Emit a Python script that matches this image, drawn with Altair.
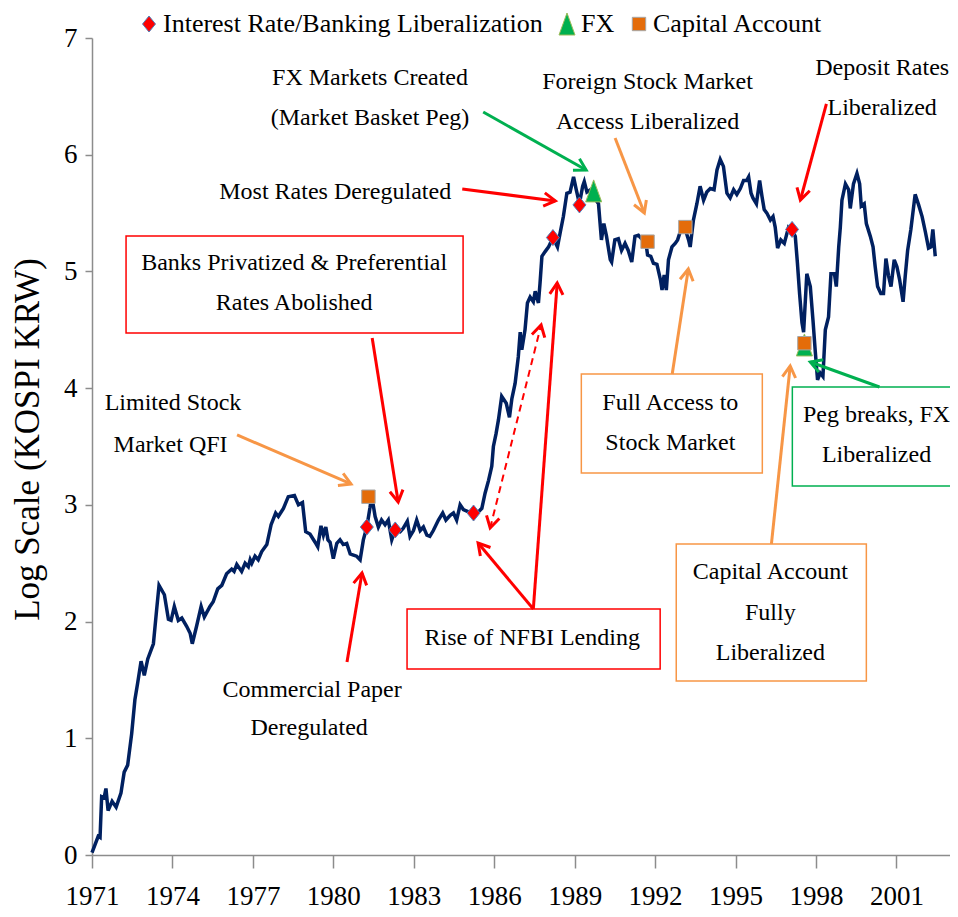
import math
import altair as alt
import pandas as pd

# ---------------- data ----------------
years = [1971.00, 1971.10, 1971.23, 1971.30, 1971.36, 1971.45, 1971.52, 1971.60, 1971.75, 1971.90,
         1972.08, 1972.20, 1972.33, 1972.48, 1972.60, 1972.70, 1972.83, 1972.95, 1973.08, 1973.29,
         1973.41, 1973.50, 1973.70, 1973.85, 1973.95, 1974.07, 1974.22, 1974.35, 1974.53, 1974.66,
         1974.74, 1974.90, 1975.07, 1975.19, 1975.40, 1975.52, 1975.69, 1975.84, 1976.02, 1976.21,
         1976.30, 1976.40, 1976.58, 1976.71, 1976.83, 1976.90, 1976.96, 1977.08, 1977.20, 1977.33,
         1977.52, 1977.68, 1977.85, 1977.95, 1978.14, 1978.32, 1978.55, 1978.70, 1978.85, 1978.97,
         1979.13, 1979.32, 1979.42, 1979.54, 1979.63, 1979.72, 1979.80, 1979.88, 1980.00, 1980.13,
         1980.25, 1980.37, 1980.50, 1980.63, 1980.75, 1980.87, 1981.00, 1981.12, 1981.25, 1981.37,
         1981.43, 1981.56, 1981.68, 1981.80, 1981.93, 1982.05, 1982.18, 1982.30, 1982.49, 1982.61,
         1982.76, 1982.86, 1982.99, 1983.11, 1983.24, 1983.36, 1983.49, 1983.60, 1983.73, 1983.92,
         1984.08, 1984.20, 1984.36, 1984.48, 1984.60, 1984.73, 1984.85, 1985.04, 1985.23, 1985.41,
         1985.54, 1985.66, 1985.79, 1985.91, 1985.97, 1986.07, 1986.16, 1986.28, 1986.45, 1986.57,
         1986.66, 1986.78, 1986.90, 1986.97, 1987.03, 1987.15, 1987.24, 1987.34, 1987.46, 1987.53,
         1987.65, 1987.71, 1987.78, 1987.90, 1988.03, 1988.19, 1988.36, 1988.46, 1988.58, 1988.71,
         1988.83, 1988.96, 1989.06, 1989.18, 1989.30, 1989.36, 1989.46, 1989.60, 1989.70, 1989.89,
         1990.00, 1990.09, 1990.19, 1990.33, 1990.38, 1990.50, 1990.63, 1990.75, 1990.88, 1991.00,
         1991.13, 1991.25, 1991.38, 1991.54, 1991.65, 1991.72, 1991.84, 1991.94, 1992.07, 1992.20,
         1992.26, 1992.34, 1992.42, 1992.50, 1992.63, 1992.75, 1992.84, 1992.94, 1993.10, 1993.25,
         1993.31, 1993.43, 1993.56, 1993.68, 1993.81, 1993.93, 1994.06, 1994.20, 1994.31, 1994.43,
         1994.55, 1994.68, 1994.80, 1994.93, 1995.05, 1995.18, 1995.30, 1995.42, 1995.49, 1995.58,
         1995.65, 1995.78, 1995.90, 1995.99, 1996.07, 1996.17, 1996.30, 1996.40, 1996.48, 1996.57,
         1996.69, 1996.82, 1996.98, 1997.10, 1997.23, 1997.31, 1997.39, 1997.48, 1997.54, 1997.60,
         1997.66, 1997.79, 1997.89, 1997.97, 1998.06, 1998.16, 1998.26, 1998.35, 1998.47, 1998.56,
         1998.69, 1998.76, 1998.85, 1998.91, 1998.97, 1999.10, 1999.22, 1999.28, 1999.40, 1999.53,
         1999.63, 1999.69, 1999.80, 1999.88, 2000.03, 2000.13, 2000.21, 2000.30, 2000.42, 2000.52,
         2000.61, 2000.71, 2000.80, 2000.92, 2001.02, 2001.12, 2001.25, 2001.33, 2001.42, 2001.54,
         2001.70, 2001.83, 2001.96, 2002.08, 2002.20, 2002.29, 2002.36, 2002.45]
kospi = [0.02, 0.08, 0.16, 0.15, 0.50, 0.49, 0.57, 0.38, 0.46, 0.41,
         0.53, 0.71, 0.77, 1.04, 1.33, 1.47, 1.66, 1.54, 1.68, 1.81,
         2.10, 2.31, 2.23, 2.02, 2.01, 2.13, 2.01, 2.03, 1.96, 1.90,
         1.81, 1.96, 2.13, 2.04, 2.13, 2.17, 2.28, 2.31, 2.41, 2.45,
         2.43, 2.49, 2.43, 2.50, 2.47, 2.53, 2.50, 2.56, 2.53, 2.60,
         2.66, 2.83, 2.93, 2.90, 2.97, 3.07, 3.08, 3.00, 3.02, 2.77,
         2.75, 2.68, 2.64, 2.82, 2.74, 2.81, 2.70, 2.68, 2.54, 2.67,
         2.70, 2.66, 2.67, 2.58, 2.57, 2.56, 2.53, 2.70, 2.81, 2.98,
         3.08, 2.90, 2.81, 2.87, 2.83, 2.87, 2.70, 2.78, 2.77, 2.80,
         2.86, 2.73, 2.78, 2.87, 2.78, 2.81, 2.74, 2.73, 2.78, 2.87,
         2.93, 2.87, 2.91, 2.93, 2.87, 3.00, 2.96, 2.94, 2.93, 2.94,
         2.97, 3.10, 3.21, 3.33, 3.50, 3.61, 3.73, 3.93, 3.87, 3.75,
         3.91, 4.04, 4.27, 4.48, 4.33, 4.50, 4.73, 4.78, 4.74, 4.83,
         4.73, 4.90, 5.13, 5.17, 5.21, 5.29, 5.21, 5.33, 5.47, 5.67,
         5.68, 5.81, 5.70, 5.58, 5.73, 5.77, 5.68, 5.70, 5.64, 5.58,
         5.27, 5.41, 5.30, 5.10, 5.08, 5.27, 5.28, 5.18, 5.24, 5.18,
         5.08, 5.30, 5.31, 5.27, 5.26, 5.14, 5.13, 5.07, 5.06, 4.93,
         4.84, 4.97, 4.84, 5.10, 5.21, 5.24, 5.27, 5.34, 5.38, 5.27,
         5.21, 5.44, 5.58, 5.73, 5.61, 5.68, 5.71, 5.70, 5.87, 5.96,
         5.90, 5.67, 5.63, 5.70, 5.66, 5.71, 5.78, 5.78, 5.81, 5.67,
         5.63, 5.58, 5.78, 5.64, 5.53, 5.50, 5.44, 5.47, 5.38, 5.20,
         5.27, 5.24, 5.38, 5.36, 5.30, 5.07, 4.81, 4.56, 4.48, 4.73,
         4.98, 4.87, 4.58, 4.33, 4.07, 4.13, 4.10, 4.50, 4.61, 4.98,
         4.98, 4.87, 5.21, 5.38, 5.61, 5.75, 5.70, 5.54, 5.75, 5.84,
         5.75, 5.56, 5.58, 5.41, 5.30, 5.21, 5.04, 4.87, 4.81, 4.81,
         5.11, 4.96, 4.87, 5.10, 5.04, 4.93, 4.74, 4.96, 5.18, 5.36,
         5.66, 5.57, 5.47, 5.34, 5.20, 5.21, 5.36, 5.13]

event_types = ["Interest Rate/Banking Liberalization", "FX", "Capital Account"]
event_type = ["FX", "FX",
              "Interest Rate/Banking Liberalization", "Interest Rate/Banking Liberalization",
              "Interest Rate/Banking Liberalization", "Interest Rate/Banking Liberalization",
              "Interest Rate/Banking Liberalization", "Interest Rate/Banking Liberalization",
              "Capital Account", "Capital Account", "Capital Account", "Capital Account"]
event_year = [1989.71, 1997.57, 1981.25, 1982.31, 1985.23, 1988.19, 1989.18, 1997.11,
              1981.31, 1991.72, 1993.13, 1997.57]
event_val = [5.69, 4.37, 2.81, 2.785, 2.93, 5.29, 5.57, 5.36,
             3.07, 5.255, 5.38, 4.385]

x_ticks = [1971, 1974, 1977, 1980, 1983, 1986, 1989, 1992, 1995, 1998, 2001]
y_ticks = [0, 1, 2, 3, 4, 5, 6, 7]

# annotation texts (centre positions in data units)
note_text = ["FX Markets Created", "(Market Basket Peg)",
             "Foreign Stock Market", "Access Liberalized",
             "Deposit Rates", "Liberalized",
             "Most Rates Deregulated",
             "Banks Privatized & Preferential", "Rates Abolished",
             "Limited Stock", "Market QFI",
             "Commercial Paper", "Deregulated",
             "Rise of NFBI Lending",
             "Full Access to", "Stock Market",
             "Capital Account", "Fully", "Liberalized",
             "Peg breaks, FX", "Liberalized"]
note_x = [1981.37, 1981.37, 1991.72, 1991.72, 2000.47, 2000.47, 1980.07,
          1978.54, 1978.54, 1974.02, 1973.93, 1979.21, 1979.10, 1987.42,
          1992.57, 1992.57, 1996.30, 1996.30, 1996.30, 2000.26, 2000.26]
note_y = [6.657, 6.315, 6.624, 6.283, 6.743, 6.40, 5.683,
          5.070, 4.728, 3.870, 3.513, 1.414, 1.088, 1.859,
          3.870, 3.527, 2.427, 2.073, 1.731, 3.770, 3.427]

# boxes round some notes
box_x1 = [1972.27, 1982.75, 1989.25, 1992.79, 1997.12]
box_x2 = [1984.84, 1992.19, 1996.00, 1999.88, 2003.40]
box_y1 = [5.304, 2.108, 4.121, 2.665, 4.010]
box_y2 = [4.473, 1.594, 3.273, 1.491, 3.162]
box_col = ["#FF0000", "#FF0000", "#F79646", "#F79646", "#00B050"]

# arrows: from (x1, y1) to the tip (x2, y2)
arr_x1 = [1985.59, 1990.51, 1998.39, 1984.81, 1981.45, 1976.41, 1980.51, 1987.46, 1987.46, 1985.85, 1992.64, 1996.34, 2000.37]
arr_y1 = [6.366, 6.143, 6.435, 5.706, 4.430, 3.599, 1.654, 2.108, 2.108, 2.802, 4.121, 2.665, 4.010]
arr_x2 = [1989.43, 1991.60, 1997.42, 1988.28, 1982.42, 1980.66, 1981.07, 1985.40, 1988.35, 1987.75, 1993.24, 1997.04, 1997.79]
arr_y2 = [5.869, 5.501, 5.612, 5.604, 3.025, 3.179, 2.416, 2.673, 4.901, 4.541, 5.021, 4.190, 4.224]
arr_col = ["#00B050", "#F79646", "#FF0000", "#FF0000", "#FF0000", "#F79646", "#FF0000",
           "#FF0000", "#FF0000", "#FF0000", "#F79646", "#F79646", "#00B050"]
arr_dashed = [False] * 9 + [True] + [False] * 3

# ---------------- layout ----------------
W, H = 858, 817
X0, X1 = 1971, 2003
Y0, Y1 = 0, 7
FONT = "Liberation Serif"

xs = alt.Scale(domain=[X0, X1], nice=False, zero=False)
ys = alt.Scale(domain=[Y0, Y1], nice=False, zero=False)

x_axis = alt.Axis(values=x_ticks, format="d", title=None, grid=False,
                  domainColor="#8C8C8C", domainWidth=1.5, tickColor="#8C8C8C",
                  tickWidth=1.5, tickSize=13, labelPadding=15, labelFont=FONT,
                  labelFontSize=27, labelColor="black", labelFlush=False)
y_axis = alt.Axis(values=y_ticks, title="Log Scale (KOSPI KRW)", grid=False,
                  domainColor="#8C8C8C", domainWidth=1.5, tickColor="#8C8C8C",
                  tickWidth=1.5, tickSize=7, labelPadding=8, labelFont=FONT,
                  labelFontSize=27, labelColor="black", titleFont=FONT,
                  titleFontSize=35, titleFontWeight="normal", titleColor="black",
                  titlePadding=18, titleY=401)


def X(field="year"):
    return alt.X(f"{field}:Q", scale=xs, axis=x_axis)


def Y(field="val"):
    return alt.Y(f"{field}:Q", scale=ys, axis=y_axis)


line_df = pd.DataFrame({"year": years, "val": kospi})
ev_df = pd.DataFrame({"year": event_year, "val": event_val, "type": event_type})
note_df = pd.DataFrame({"year": note_x, "val": note_y, "t": note_text})
box_df = pd.DataFrame({"year": box_x1, "year2": box_x2, "val": box_y1, "val2": box_y2,
                       "c": box_col})
arr_df = pd.DataFrame({"year": arr_x1, "val": arr_y1, "year2": arr_x2, "val2": arr_y2,
                       "c": arr_col, "d": arr_dashed})

# arrow heads: angle from the on-screen direction of each arrow
ppx = W / (X1 - X0)
ppy = H / (Y1 - Y0)
heads = []
for i in range(len(arr_x1)):
    dx = (arr_x2[i] - arr_x1[i]) * ppx
    dy = -(arr_y2[i] - arr_y1[i]) * ppy
    ang = math.degrees(math.atan2(dx, -dy)) % 360
    heads.append({"year": arr_x2[i], "val": arr_y2[i], "a": ang, "c": arr_col[i]})
    if arr_dashed[i]:
        heads.append({"year": arr_x1[i], "val": arr_y1[i], "a": (ang + 180) % 360,
                      "c": arr_col[i]})
head_df = pd.DataFrame(heads)

line = alt.Chart(line_df).mark_line(color="#002060", strokeWidth=3.5).encode(
    x=X(), y=Y())

boxes = alt.Chart(box_df).mark_rect(fill="white", strokeWidth=1.5).encode(
    x=X(), x2="year2:Q", y=Y(), y2="val2:Q",
    stroke=alt.Stroke("c:N", scale=None),
)

solid = alt.Chart(arr_df).transform_filter("!datum.d").mark_rule(strokeWidth=3).encode(
    x=X(), x2="year2:Q", y=Y(), y2="val2:Q",
    color=alt.Color("c:N", scale=None),
)
dashed = alt.Chart(arr_df).transform_filter("datum.d").mark_rule(
    strokeWidth=2, strokeDash=[7, 5]).encode(
    x=X(), x2="year2:Q", y=Y(), y2="val2:Q",
    color=alt.Color("c:N", scale=None),
)

head_shape = "M -0.58 1 L 0 0 L 0.58 1"
arrow_heads = alt.Chart(head_df).mark_point(shape=head_shape, filled=False, size=520,
                                            strokeWidth=3, opacity=1).encode(
    x=X(), y=Y(),
    angle=alt.Angle("a:Q", scale=None),
    color=alt.Color("c:N", scale=None),
)

# marker shapes, drawn at size 400 (unit of 10 px)
diamond = "M 0 -0.8 L 0.65 0 L 0 0.8 L -0.65 0 Z"
triangle = "M 0 -1.1 L 0.8 1.1 L -0.8 1.1 Z"
square = "M -0.67 -0.67 L 0.67 -0.67 L 0.67 0.67 L -0.67 0.67 Z"
events = alt.Chart(ev_df).mark_point(filled=True, opacity=1, strokeWidth=1, size=400).encode(
    x=X(), y=Y(),
    color=alt.Color("type:N", scale=alt.Scale(domain=event_types,
                                              range=["#FF0000", "#00B050", "#E46C0A"]),
                    legend=alt.Legend(title=None, orient="none", direction="horizontal",
                                      legendX=44, legendY=-27, labelFont=FONT,
                                      labelFontSize=26, labelColor="black", symbolSize=400,
                                      labelOffset=1, columnPadding=11, symbolStrokeWidth=1,
                                      labelLimit=600)),
    shape=alt.Shape("type:N", scale=alt.Scale(domain=event_types,
                                              range=[diamond, triangle, square])),
    stroke=alt.Stroke("type:N", scale=alt.Scale(domain=event_types,
                                                range=["#4F81BD", "#9BBB59", "#A6A6A6"])),
)

notes = alt.Chart(note_df).mark_text(font=FONT, fontSize=24, color="black",
                                     align="center", baseline="middle").encode(
    x=X(), y=Y(), text="t:N",
)

chart = alt.layer(line, events, boxes, solid, dashed, arrow_heads, notes).properties(
    width=W, height=H,
    autosize=alt.AutoSizeParams(type="none"),
    padding={"left": 84, "top": 30, "right": 0, "bottom": 54},
    background="white",
).configure_view(stroke=None)

chart.save("out.html", embed_options={"renderer": "svg", "actions": False})
